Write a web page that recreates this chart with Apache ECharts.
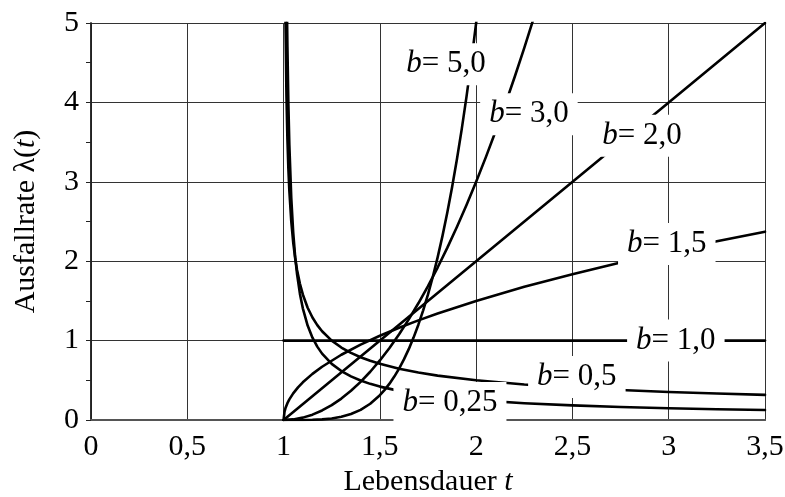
<!DOCTYPE html>
<html>
<head>
<meta charset="utf-8">
<script src="https://cdn.jsdelivr.net/npm/echarts@6/dist/echarts.min.js"></script>
<style>html,body{margin:0;padding:0;background:#fff}#c{width:785px;height:497px}</style>
</head>
<body>
<div id="c"></div>
<script>
// x tick values and labels
const xTicks = [0, 0.5, 1, 1.5, 2, 2.5, 3, 3.5];
const xTickLabels = ['0', '0,5', '1', '1,5', '2', '2,5', '3', '3,5'];
const yTicks = [0, 1, 2, 3, 4, 5];

// b = 5.0
const tB5 = [1, 1.1, 1.15, 1.2, 1.25, 1.3, 1.35, 1.4, 1.45, 1.5, 1.525, 1.55, 1.575, 1.6, 1.625, 1.65, 1.675, 1.7, 1.725, 1.75, 1.775, 1.8, 1.825, 1.85, 1.875, 1.9, 1.925, 1.95, 1.975, 2.0, 2.02];
const lamB5 = [0, 0.0005, 0.0025, 0.008, 0.0195, 0.0405, 0.075, 0.128, 0.205, 0.3125, 0.380, 0.4575, 0.5466, 0.648, 0.763, 0.8926, 1.038, 1.2005, 1.381, 1.582, 1.804, 2.048, 2.316, 2.610, 2.931, 3.2805, 3.660, 4.0725, 4.518, 5.0, 5.412];
// b = 3.0
const tB3 = [1, 1.05, 1.1, 1.15, 1.2, 1.25, 1.3, 1.35, 1.4, 1.45, 1.5, 1.55, 1.6, 1.65, 1.7, 1.75, 1.8, 1.85, 1.9, 1.95, 2.0, 2.05, 2.1, 2.15, 2.2, 2.25, 2.3, 2.35];
const lamB3 = [0, 0.0075, 0.03, 0.0675, 0.12, 0.1875, 0.27, 0.3675, 0.48, 0.6075, 0.75, 0.9075, 1.08, 1.2675, 1.47, 1.6875, 1.92, 2.1675, 2.43, 2.7075, 3.0, 3.3075, 3.63, 3.9675, 4.32, 4.6875, 5.07, 5.4675];
// b = 2.0
const tB2 = [1, 2, 3, 3.5];
const lamB2 = [0, 2, 4, 5];
// b = 1.5
const tB15 = [1, 1.005, 1.01, 1.02, 1.03, 1.05, 1.075, 1.1, 1.15, 1.2, 1.3, 1.4, 1.5, 1.6, 1.7, 1.8, 2.0, 2.25, 2.5, 2.75, 3.0, 3.25, 3.5];
const lamB15 = [0, 0.1061, 0.15, 0.2121, 0.2598, 0.3354, 0.4108, 0.4743, 0.5809, 0.6708, 0.8216, 0.9487, 1.0607, 1.1619, 1.2550, 1.3416, 1.5, 1.6771, 1.8371, 1.9843, 2.1213, 2.25, 2.3717];
// b = 1.0
const tB1 = [1, 3.5];
const lamB1 = [1, 1];
// b = 0.5
const tB05 = [1.001, 1.005, 1.0075, 1.01, 1.015, 1.02, 1.025, 1.03, 1.04, 1.05, 1.06, 1.07, 1.085, 1.1, 1.125, 1.15, 1.175, 1.2, 1.25, 1.3, 1.35, 1.4, 1.45, 1.5, 1.6, 1.7, 1.8, 2.0, 2.25, 2.5, 2.75, 3.0, 3.25, 3.5];
const lamB05 = [15.81, 7.071, 5.774, 5.0, 4.082, 3.5355, 3.162, 2.8868, 2.5, 2.2361, 2.0412, 1.8898, 1.715, 1.5811, 1.414, 1.2910, 1.195, 1.1180, 1.0, 0.9129, 0.8452, 0.7906, 0.7454, 0.7071, 0.6455, 0.5976, 0.5590, 0.5, 0.4472, 0.4082, 0.3780, 0.3536, 0.3333, 0.3162];
// b = 0.25
const tB025 = [1.001, 1.005, 1.0075, 1.01, 1.015, 1.0184, 1.02, 1.025, 1.03, 1.04, 1.05, 1.06, 1.07, 1.085, 1.1, 1.125, 1.15, 1.175, 1.2, 1.25, 1.3, 1.35, 1.4, 1.45, 1.5, 1.6, 1.7, 1.8, 2.0, 2.25, 2.5, 2.75, 3.0, 3.25, 3.5];
const lamB025 = [44.5, 13.3, 9.80, 7.906, 5.835, 5.0, 4.70, 3.977, 3.467, 2.795, 2.364, 2.062, 1.837, 1.588, 1.406, 1.189, 1.037, 0.924, 0.836, 0.7071, 0.6168, 0.5494, 0.4970, 0.4550, 0.4204, 0.3667, 0.3267, 0.2955, 0.25, 0.2115, 0.1844, 0.1643, 0.1487, 0.1361, 0.1258];

// curve labels (b values) and their anchor positions (t, lambda)
const labelTexts = ['5,0', '3,0', '2,0', '1,5', '1,0', '0,5', '0,25'];
const labelT = [1.843, 2.274, 2.861, 2.99, 3.037, 2.523, 1.864];
const labelLam = [4.48, 3.85, 3.58, 2.217, 1.0, 0.54, 0.214];

const FONT = 'Liberation Serif';
const zip = (xs, ys) => xs.map((x, i) => [x, ys[i]]);
const curves = [[tB5, lamB5], [tB3, lamB3], [tB2, lamB2], [tB15, lamB15], [tB1, lamB1], [tB05, lamB05], [tB025, lamB025]];

const lineSeries = curves.map(([xs, ys]) => ({
  type: 'line',
  data: zip(xs, ys),
  showSymbol: false,
  symbol: 'none',
  smooth: false,
  clip: true,
  z: 3,
  lineStyle: { color: '#000', width: 2.6, join: 'round', cap: 'round' },
  silent: true
}));

const labelSeries = {
  type: 'scatter',
  z: 10,
  symbolSize: 0,
  silent: true,
  itemStyle: { opacity: 1 },
  data: labelTexts.map((s, i) => ({ value: [labelT[i], labelLam[i]], name: s })),
  label: {
    show: true,
    opacity: 1,
    position: 'inside',
    formatter: p => '{i|b}{n|= ' + p.name + '}',
    backgroundColor: '#fff',
    padding: [6, 9, 6, 9],
    rich: {
      i: { fontFamily: FONT, fontSize: 31, fontStyle: 'italic', color: '#000', lineHeight: 30 },
      n: { fontFamily: FONT, fontSize: 31, color: '#000', lineHeight: 30 }
    }
  }
};

const chart = echarts.init(document.getElementById('c'), null, { renderer: 'canvas' });
chart.setOption({
  backgroundColor: '#fff',
  animation: false,
  grid: { left: 91, right: 20, top: 23, bottom: 77, containLabel: false, outerBoundsMode: 'none' },
  xAxis: [{
    type: 'value', min: xTicks[0], max: xTicks[xTicks.length - 1], interval: 0.5,
    axisLine: { show: true, onZero: false, lineStyle: { color: '#444', width: 2 } },
    axisTick: { show: false },
    splitLine: { show: true, lineStyle: { color: '#333', width: 1 } },
    axisLabel: {
      margin: 12, fontFamily: FONT, fontSize: 30, color: '#000',
      formatter: v => xTickLabels[xTicks.indexOf(v)] ?? String(v).replace('.', ',')
    },
    name: '{a|Lebensdauer }{i|t}',
    nameLocation: 'middle', nameGap: 46,
    nameTextStyle: {
      rich: {
        a: { fontFamily: FONT, fontSize: 30, color: '#000' },
        i: { fontFamily: FONT, fontSize: 30, fontStyle: 'italic', color: '#000' }
      }
    }
  }, {
    type: 'value', position: 'top', min: 0, max: 3.5, interval: 0.5,
    axisLine: { show: true, lineStyle: { color: '#555', width: 2 } },
    axisTick: { show: false }, axisLabel: { show: false }, splitLine: { show: false }
  }],
  yAxis: [{
    type: 'value', min: yTicks[0], max: yTicks[yTicks.length - 1], interval: 1,
    axisLine: { show: true, onZero: false, lineStyle: { color: '#222', width: 1.5 } },
    axisTick: { show: false },
    splitLine: { show: true, lineStyle: { color: '#333', width: 1 } },
    axisLabel: { margin: 12, fontFamily: FONT, fontSize: 30, color: '#000' },
    name: '{a|Ausfallrate λ(}{i|t}{a|)}',
    nameLocation: 'middle', nameGap: 50, nameRotate: 90,
    nameTextStyle: {
      rich: {
        a: { fontFamily: FONT, fontSize: 30, color: '#000' },
        i: { fontFamily: FONT, fontSize: 30, fontStyle: 'italic', color: '#000' }
      }
    }
  }, {
    type: 'value', position: 'right', min: 0, max: 5, interval: 0.5,
    axisLine: { show: true, lineStyle: { color: '#222', width: 1.5 } },
    axisTick: { show: true, inside: true, length: 5, lineStyle: { color: '#222', width: 1 } },
    axisLabel: { show: false }, splitLine: { show: false }
  }],
  series: lineSeries.concat([labelSeries])
});
</script>
</body>
</html>
